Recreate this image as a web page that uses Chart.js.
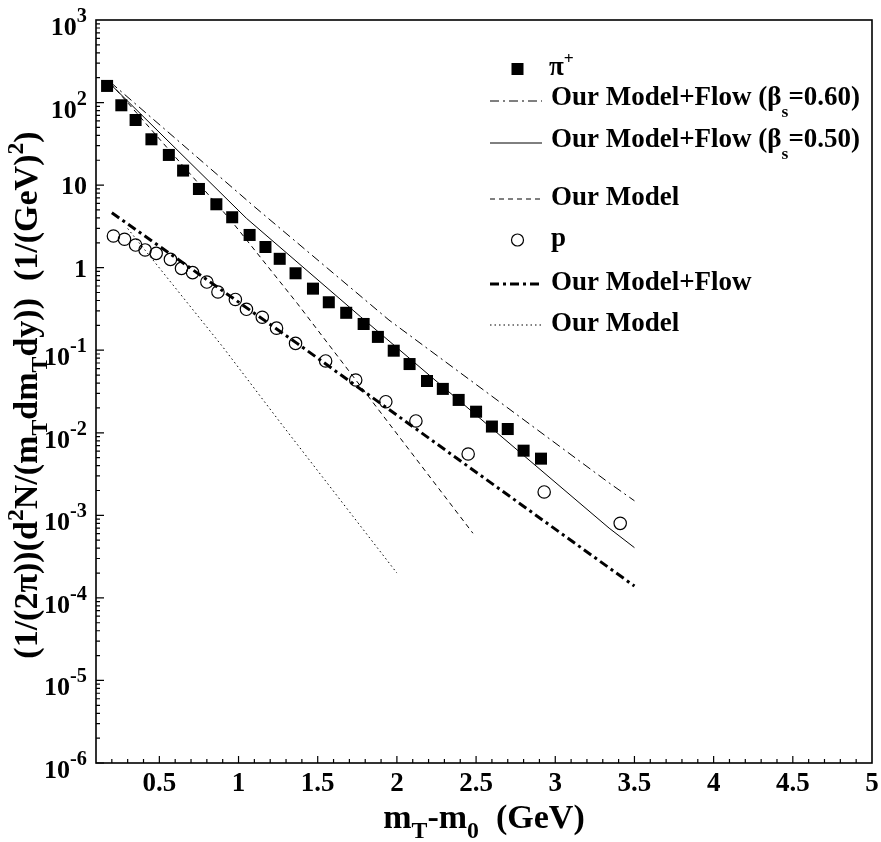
<!DOCTYPE html>
<html>
<head>
<meta charset="utf-8">
<script src="https://cdn.jsdelivr.net/npm/chart.js@4.4.0/dist/chart.umd.min.js"></script>
<style>
html, body { margin: 0; padding: 0; background: #fff; }
#wrap { width: 881px; height: 842px; }
</style>
</head>
<body>
<div id="wrap"><canvas id="spectra" width="881" height="842"></canvas></div>
<script>
// measured pi+ and proton spectra
const pionX = [0.17, 0.26, 0.35, 0.45, 0.56, 0.65, 0.75, 0.86, 0.96, 1.07, 1.17, 1.26, 1.36, 1.47,
    1.57, 1.68, 1.79, 1.88, 1.98, 2.08, 2.19, 2.29, 2.39, 2.50, 2.60, 2.70, 2.80, 2.91];
const pionY = [159, 92.7, 61.5, 35.9, 23.2, 15.0, 8.98, 5.86, 4.08, 2.49, 1.78, 1.28, 0.855, 0.557,
    0.381, 0.284, 0.208, 0.145, 0.0987, 0.068, 0.0424, 0.034, 0.025, 0.018, 0.0119, 0.0111, 0.00607, 0.00486];
const protonX = [0.21, 0.28, 0.35, 0.41, 0.48, 0.57, 0.64, 0.71, 0.80, 0.87, 0.98, 1.05, 1.15, 1.24,
    1.36, 1.55, 1.74, 1.93, 2.12, 2.45, 2.93, 3.41];
const protonY = [2.42, 2.21, 1.88, 1.64, 1.49, 1.26, 0.98, 0.87, 0.67, 0.507, 0.412, 0.313, 0.251, 0.185,
    0.121, 0.0741, 0.0436, 0.0238, 0.0139, 0.00553, 0.00192, 0.0008];

// model curves
const flow60X = [0.19, 1.10, 1.95, 3.34, 3.50];
const flow60Y = [177, 5.48, 0.232, 0.00247, 0.0015];
const flow50X = [0.19, 1.05, 1.77, 3.34, 3.50];
const flow50Y = [168, 3.96, 0.255, 0.0007, 0.000406];
const pionModelX = [0.19, 0.58, 0.95, 1.37, 2.48];
const pionModelY = [173, 24.3, 3.78, 0.371, 0.000607];
const protonFlowX = [0.2, 1.37, 3.5];
const protonFlowY = [4.63, 0.121, 0.000139];
const protonModelX = [0.3, 0.9, 1.26, 2.0];
const protonModelY = [2.98, 0.11, 0.0136, 0.0002];

// tick labels
const xTickValues = [0.5, 1, 1.5, 2, 2.5, 3, 3.5, 4, 4.5, 5];
const xTickLabels = ['0.5', '1', '1.5', '2', '2.5', '3', '3.5', '4', '4.5', '5'];
const yTickValues = [1e3, 1e2, 10, 1, 1e-1, 1e-2, 1e-3, 1e-4, 1e-5, 1e-6];
const yTickLabels = [['10', '3'], ['10', '2'], ['10', ''], ['1', ''], ['10', '-1'], ['10', '-2'],
    ['10', '-3'], ['10', '-4'], ['10', '-5'], ['10', '-6']];

function pts(xs, ys) {
    return xs.map((x, i) => ({ x: x, y: ys[i] }));
}

const FONT = '"Liberation Serif", "Times New Roman", serif';

function drawRich(ctx, parts, x, y, size, align, o) {
    const opt = Object.assign({ sub: 0.75, sup: 0.75, subDy: 0.3, supDy: 0.42 }, o || {});
    const sizeOf = (m) => m === 'n' ? size : size * (m === 'sub' ? opt.sub : opt.sup);
    const widths = parts.map(([t, m]) => {
        ctx.font = `bold ${sizeOf(m)}px ${FONT}`;
        return ctx.measureText(t).width;
    });
    const total = widths.reduce((a, b) => a + b, 0);
    let cx = align === 'right' ? x - total : align === 'center' ? x - total / 2 : x;
    parts.forEach(([t, m], i) => {
        ctx.font = `bold ${sizeOf(m)}px ${FONT}`;
        const dy = m === 'sup' ? -size * opt.supDy : m === 'sub' ? size * opt.subDy : 0;
        ctx.fillText(t, cx, y + dy);
        cx += widths[i];
    });
}

function sampleLine(ctx, y, dash, width) {
    ctx.save();
    ctx.lineWidth = width;
    ctx.setLineDash(dash);
    ctx.beginPath();
    ctx.moveTo(490, y);
    ctx.lineTo(542, y);
    ctx.stroke();
    ctx.restore();
}

const decorations = {
    id: 'decorations',
    afterDraw(chart) {
        const { ctx, chartArea: a, scales: { x, y } } = chart;
        ctx.save();
        ctx.strokeStyle = '#000';
        ctx.fillStyle = '#000';
        ctx.lineWidth = 1.6;
        ctx.strokeRect(a.left, a.top, a.right - a.left, a.bottom - a.top);

        // inward tick marks
        ctx.lineWidth = 1.2;
        ctx.beginPath();
        for (let k = 2; k < 50; k++) {
            const px = x.getPixelForValue(k / 10);
            const len = k % 5 === 0 ? 7 : 4;
            ctx.moveTo(px, a.bottom);
            ctx.lineTo(px, a.bottom - len);
        }
        for (let e = -6; e < 3; e++) {
            for (let m = 1; m < 10; m++) {
                const py = y.getPixelForValue(m * Math.pow(10, e));
                const len = m === 1 ? 8 : 4;
                ctx.moveTo(a.left, py);
                ctx.lineTo(a.left + len, py);
            }
        }
        ctx.stroke();

        ctx.textBaseline = 'alphabetic';
        xTickValues.forEach((v, i) => {
            drawRich(ctx, [[xTickLabels[i], 'n']], x.getPixelForValue(v), 791, 27, 'center');
        });
        yTickValues.forEach((v, i) => {
            const [base, sup] = yTickLabels[i];
            const py = y.getPixelForValue(v);
            const parts = sup ? [[base, 'n'], [sup, 'sup']] : [[base, 'n']];
            drawRich(ctx, parts, 87, py + (sup ? 15 : 9), 26, 'right', { sup: 0.78, supDy: 0.5 });
        });

        // axis titles
        drawRich(ctx, [['m', 'n'], ['T', 'sub'], ['-m', 'n'], ['0', 'sub'], ['  (GeV)', 'n']],
            (a.left + a.right) / 2, 828, 34, 'center', { sub: 0.7, subDy: 0.3 });
        ctx.save();
        ctx.translate(37, 395);
        ctx.rotate(-Math.PI / 2);
        drawRich(ctx, [['(1/(2\u03c0))(d', 'n'], ['2', 'sup'], ['N/(m', 'n'], ['T', 'sub'], ['dm', 'n'],
            ['T', 'sub'], ['dy))  (1/(GeV)', 'n'], ['2', 'sup'], [')', 'n']], 0, 0, 34, 'center',
            { sub: 0.7, sup: 0.7, subDy: 0.3, supDy: 0.42 });
        ctx.restore();

        // legend
        const lo = { sub: 0.65, subDy: 0.45, sup: 0.65, supDy: 0.4 };
        ctx.fillRect(517.5 - 6, 69 - 6, 12, 12);
        drawRich(ctx, [['\u03c0', 'n'], ['+', 'sup']], 549, 75, 27, 'left', lo);
        sampleLine(ctx, 101, [9, 4, 2, 4], 1);
        drawRich(ctx, [['Our Model+Flow (\u03b2', 'n'], ['s', 'sub'], ['=0.60)', 'n']], 551, 105, 27, 'left', lo);
        sampleLine(ctx, 143, [], 1);
        drawRich(ctx, [['Our Model+Flow (\u03b2', 'n'], ['s', 'sub'], ['=0.50)', 'n']], 551, 147, 27, 'left', lo);
        sampleLine(ctx, 199, [5, 4], 1);
        drawRich(ctx, [['Our Model', 'n']], 551, 205, 27, 'left', lo);
        ctx.lineWidth = 1.2;
        ctx.beginPath();
        ctx.arc(517.5, 240, 6, 0, Math.PI * 2);
        ctx.stroke();
        drawRich(ctx, [['p', 'n']], 551, 246, 27, 'left', lo);
        sampleLine(ctx, 284, [9, 4, 3, 4], 3);
        drawRich(ctx, [['Our Model+Flow', 'n']], 551, 290, 27, 'left', lo);
        sampleLine(ctx, 325, [1.5, 3], 1);
        drawRich(ctx, [['Our Model', 'n']], 551, 331, 27, 'left', lo);
        ctx.restore();
    }
};

function curve(xs, ys, dash, width) {
    return {
        data: pts(xs, ys),
        showLine: true,
        borderColor: '#000',
        borderWidth: width,
        borderDash: dash,
        borderCapStyle: 'butt',
        pointRadius: 0,
        fill: false,
        tension: 0
    };
}

const config = {
    type: 'scatter',
    data: {
        datasets: [
            {
                label: 'pi+',
                data: pts(pionX, pionY),
                pointStyle: 'rect',
                pointRadius: 8.5,
                backgroundColor: '#000',
                borderWidth: 0
            },
            {
                label: 'p',
                data: pts(protonX, protonY),
                pointStyle: 'circle',
                pointRadius: 6.2,
                backgroundColor: 'rgba(0,0,0,0)',
                borderColor: '#000',
                borderWidth: 1.2
            },
            curve(flow60X, flow60Y, [9, 4, 2, 4], 1),
            curve(flow50X, flow50Y, [], 1),
            curve(pionModelX, pionModelY, [5, 4], 1),
            curve(protonFlowX, protonFlowY, [9, 4, 3, 4], 3),
            curve(protonModelX, protonModelY, [1.5, 3], 1)
        ]
    },
    options: {
        responsive: false,
        animation: false,
        devicePixelRatio: 1,
        layout: { padding: { left: 96, top: 20, right: 9, bottom: 79 } },
        plugins: { legend: { display: false }, tooltip: { enabled: false } },
        scales: {
            x: { type: 'linear', min: 0.1, max: 5, display: false },
            y: { type: 'logarithmic', min: 1e-6, max: 1e3, display: false }
        }
    },
    plugins: [decorations]
};

new Chart(document.getElementById('spectra').getContext('2d'), config);
</script>
</body>
</html>
